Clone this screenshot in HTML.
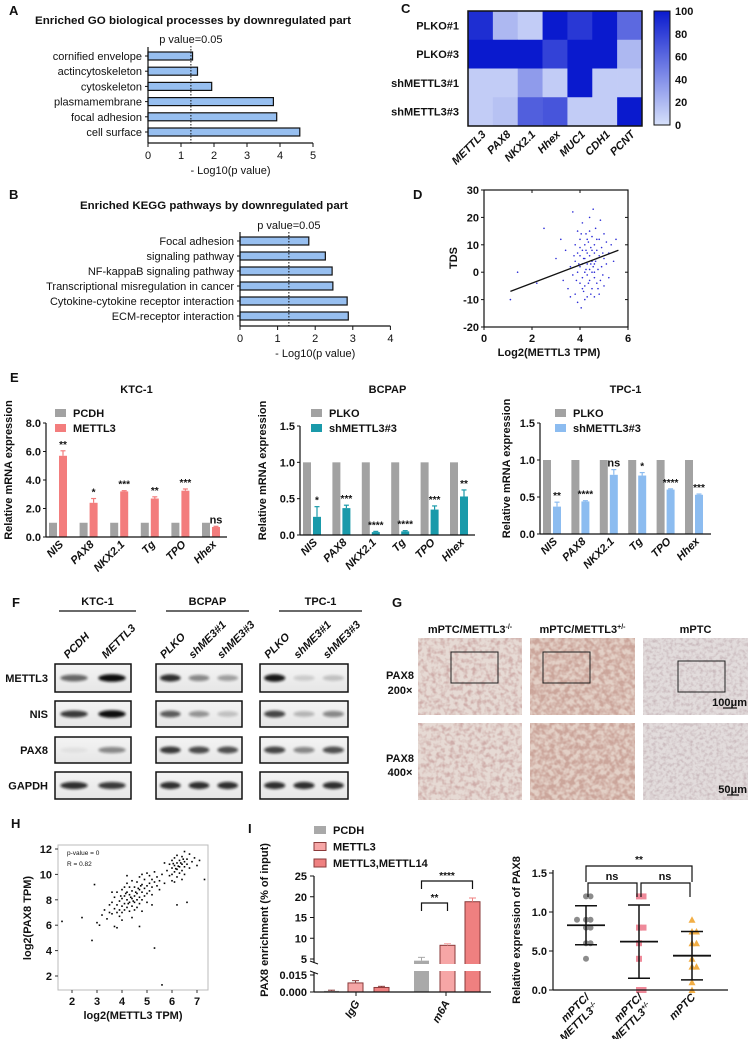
<!DOCTYPE html>
<html><head><meta charset="utf-8"><style>
html,body{margin:0;padding:0;background:#fff;}
svg{display:block;font-family:"Liberation Sans",Arial,sans-serif;}
text{fill:#111;}
</style></head><body>
<svg id="fig" width="753" height="1039" viewBox="0 0 753 1039" xmlns="http://www.w3.org/2000/svg">
<defs>
<filter id="blur" x="-50%" y="-100%" width="200%" height="300%"><feGaussianBlur stdDeviation="1.3"/></filter>
<linearGradient id="blotbg" x1="0" y1="0" x2="0" y2="1"><stop offset="0" stop-color="#f4f4f4"/><stop offset="1" stop-color="#e6e6e6"/></linearGradient>
<filter id="tex1" x="0" y="0" width="100%" height="100%"><feTurbulence type="fractalNoise" baseFrequency="0.22" numOctaves="2" seed="3"/><feColorMatrix type="matrix" values="0 0 0 0 0.62  0 0 0 0 0.42  0 0 0 0 0.40  2.6 0 0 0 -1.05"/></filter>
<filter id="tex2" x="0" y="0" width="100%" height="100%"><feTurbulence type="fractalNoise" baseFrequency="0.2" numOctaves="2" seed="7"/><feColorMatrix type="matrix" values="0 0 0 0 0.60  0 0 0 0 0.38  0 0 0 0 0.33  2.8 0 0 0 -0.9"/></filter>
<filter id="tex3" x="0" y="0" width="100%" height="100%"><feTurbulence type="fractalNoise" baseFrequency="0.3" numOctaves="2" seed="11"/><feColorMatrix type="matrix" values="0 0 0 0 0.58  0 0 0 0 0.48  0 0 0 0 0.50  2.2 0 0 0 -0.9"/></filter>
</defs>
</svg>
<script>
// ---------- DATA ----------
const goTerms=["cornified envelope","actincytoskeleton","cytoskeleton","plasmamembrane","focal adhesion","cell surface"];
const goVals=[1.35,1.5,1.93,3.8,3.9,4.6];
const goTicks=[0,1,2,3,4,5];
const keggTerms=["Focal adhesion","signaling pathway","NF-kappaB signaling pathway","Transcriptional misregulation in cancer","Cytokine-cytokine receptor interaction","ECM-receptor interaction"];
const keggVals=[1.83,2.27,2.45,2.47,2.85,2.88];
const keggTicks=[0,1,2,3,4];
const pCut=1.3;
const heatRows=["PLKO#1","PLKO#3","shMETTL3#1","shMETTL3#3"];
const heatCols=["METTL3","PAX8","NKX2.1","Hhex","MUC1","CDH1","PCNT"];
const heatVals=[[90,20,10,100,85,100,60],[100,100,100,80,100,100,20],[10,10,35,10,100,10,10],[10,15,65,70,10,10,100]];
const heatTicks=[0,20,40,60,80,100];
const tdsPts=[[1.1,-10],[1.4,0],[2.5,16],[2.2,-4],[3.0,5],[3.2,12],[3.3,-3],[3.4,8],[3.5,-6],[3.6,2],[3.7,22],[3.7,-1],[3.8,10],[3.8,-8],[3.8,4],[3.9,15],[3.9,0],[3.9,-11],[4.0,6],[4.0,-4],[4.0,12],[4.0,2],[4.05,-13],[4.1,18],[4.1,8],[4.1,-2],[4.1,3],[4.15,-7],[4.2,10],[4.2,5],[4.2,0],[4.2,-5],[4.25,14],[4.3,7],[4.3,-1],[4.3,-9],[4.3,3],[4.35,11],[4.4,20],[4.4,6],[4.4,1],[4.4,-3],[4.45,9],[4.5,-6],[4.5,4],[4.5,13],[4.5,0],[4.55,23],[4.6,7],[4.6,-2],[4.6,10],[4.6,3],[4.65,16],[4.7,5],[4.7,-4],[4.7,8],[4.75,1],[4.8,12],[4.8,-8],[4.8,6],[4.85,19],[4.9,2],[4.9,9],[4.95,-1],[5.0,14],[5.0,5],[5.0,-5],[5.1,11],[5.1,3],[5.2,7],[5.2,-2],[5.3,10],[5.4,4],[5.5,12],[3.6,-9],[3.9,7],[4.2,-10],[4.4,15],[4.6,-9],[4.0,9],[4.3,12],[4.5,8],[4.7,12],[4.1,-6],[3.95,3],[4.25,1],[4.55,2],[4.85,-3],[3.85,-3],[4.45,-8],[4.15,5],[4.35,-4],[4.65,4],[3.75,6],[4.05,14],[4.75,-6],[4.95,7],[4.25,8],[4.45,3],[4.6,0]];
const tdsFitX=[1.1,5.6];
const tdsFitY=[-7,8];
const dXTicks=[0,2,4,6];
const dYTicks=[-20,-10,0,10,20,30];
const eGenes=["NIS","PAX8","NKX2.1","Tg","TPO","Hhex"];
const ktcCtrl=[1,1,1,1,1,1];
const ktcVals=[5.7,2.4,3.2,2.7,3.25,0.7];
const ktcErr=[0.35,0.3,0.05,0.12,0.12,0.05];
const ktcStars=["**","*","***","**","***","ns"];
const ktcTicks=["0.0","2.0","4.0","6.0","8.0"];
const bcCtrl=[1,1,1,1,1,1];
const bcVals=[0.25,0.37,0.04,0.05,0.35,0.53];
const bcErr=[0.14,0.04,0.01,0.01,0.05,0.09];
const bcStars=["*","***","****","****","***","**"];
const tpCtrl=[1,1,1,1,1,1];
const tpVals=[0.37,0.44,0.8,0.79,0.6,0.53];
const tpErr=[0.06,0.01,0.07,0.04,0.01,0.01];
const tpStars=["**","****","ns","*","****","***"];
const smallTicks=["0.0","0.5","1.0","1.5"];
const blotRows=["METTL3","NIS","PAX8","GAPDH"];
const blotKTC=[[0.6,1.0],[0.8,1.0],[0.05,0.45],[0.85,0.8]];
const blotBC=[[0.85,0.45,0.35],[0.65,0.4,0.2],[0.8,0.72,0.7],[0.85,0.85,0.85]];
const blotTP=[[0.95,0.15,0.2],[0.75,0.25,0.45],[0.75,0.45,0.7],[0.85,0.85,0.85]];
const hPts=[[1.6,6.3],[2.4,6.6],[2.8,4.8],[2.9,9.2],[3.8,5.8],[3.7,5.9],[4.7,5.9],[5.3,4.2],[5.6,1.3],[6.2,7.6],[7.3,9.6],[6.6,7.8],[3.2,6.8],[3.3,7.2],[3.4,6.5],[3.5,7.6],[3.5,7.0],[3.6,6.9],[3.6,7.8],[3.7,7.3],[3.7,8.2],[3.8,7.0],[3.8,7.6],[3.8,8.6],[3.9,7.9],[3.9,7.2],[3.9,6.7],[4.0,8.1],[4.0,7.5],[4.0,8.8],[4.0,7.0],[4.1,8.3],[4.1,7.7],[4.1,9.0],[4.1,7.2],[4.2,8.0],[4.2,8.6],[4.2,7.4],[4.2,9.3],[4.3,7.8],[4.3,8.4],[4.3,7.1],[4.3,9.0],[4.4,8.1],[4.4,8.7],[4.4,7.5],[4.4,9.5],[4.5,8.3],[4.5,7.8],[4.5,9.0],[4.5,7.2],[4.6,8.5],[4.6,8.0],[4.6,9.4],[4.6,7.4],[4.7,8.8],[4.7,8.2],[4.7,9.8],[4.7,7.7],[4.8,8.6],[4.8,9.2],[4.8,8.0],[4.8,10.0],[4.9,8.9],[4.9,8.3],[4.9,9.6],[5.0,9.1],[5.0,8.5],[5.0,10.1],[5.0,7.8],[5.1,9.3],[5.1,8.7],[5.1,9.9],[5.2,9.0],[5.2,9.6],[5.2,8.4],[5.3,9.4],[5.3,10.2],[5.4,9.1],[5.4,9.8],[5.5,9.5],[5.5,8.8],[5.6,10.0],[5.7,9.3],[3.0,6.2],[3.1,6.0],[4.0,6.4],[4.4,6.6],[4.8,7.1],[5.2,7.6],[3.6,8.6],[4.2,9.9],[4.35,8.2],[4.55,8.6],[4.25,7.7],[4.65,8.9],[4.15,8.5],[4.45,7.9],[3.95,8.3],[4.75,9.1],[5.8,10.3],[5.9,10.8],[5.9,9.9],[6.0,10.5],[6.0,11.1],[6.0,10.0],[6.1,10.7],[6.1,10.2],[6.1,11.3],[6.2,10.4],[6.2,10.9],[6.2,11.5],[6.2,9.8],[6.3,10.6],[6.3,11.1],[6.3,10.1],[6.4,10.8],[6.4,10.3],[6.4,11.4],[6.5,10.6],[6.5,11.0],[6.5,10.0],[6.6,10.8],[6.6,11.2],[6.7,10.5],[6.7,11.6],[6.8,11.0],[6.9,11.3],[7.0,10.7],[7.1,11.1],[6.0,9.5],[6.4,9.6],[5.7,10.9],[6.5,11.8],[6.1,9.4],[6.25,10.65],[6.35,10.9],[6.15,10.45],[6.45,11.2],[6.05,10.85]];
const hXTicks=[2,3,4,5,6,7];
const hYTicks=[2,4,6,8,10,12];
const ripGroups=["IgG","m6A"];
const ripSeries=["PCDH","METTL3","METTL3,METTL14"];
const ripIgG=[0.001,0.008,0.004];
const ripIgGErr=[0.0006,0.002,0.001];
const ripM6A=[4.6,8.3,18.8];
const ripM6AErr=[0.8,0.4,0.9];
const ripUpperTicks=[5,10,15,20,25];
const ripLowerTicks=["0.000","0.015"];
const dotGroups=["mPTC/METTL3-/-","mPTC/METTL3+/-","mPTC"];
const dotG1=[1.2,1.2,0.9,0.9,0.9,0.8,0.8,0.6,0.6,0.4];
const dotG2=[1.2,1.2,0.8,0.8,0.6,0.4,0.0,0.0];
const dotG3=[0.9,0.75,0.75,0.6,0.6,0.4,0.3,0.3,0.1,0.0];
const dotMean=[0.83,0.62,0.44];
const dotSD=[0.25,0.47,0.31];
const dotTicks=["0.0","5.0","1.0","1.5"];

// ---------- HELPERS ----------
const NS='http://www.w3.org/2000/svg';
const svg=document.getElementById('fig');
function el(tag,attrs,parent){const e=document.createElementNS(NS,tag);for(const k in attrs)e.setAttribute(k,attrs[k]);(parent||svg).appendChild(e);return e;}
function tx(x,y,s,attrs,parent){const e=el('text',Object.assign({x:x,y:y},attrs||{}),parent);e.textContent=s;return e;}
function grp(parent){return el('g',{},parent);}
const B={'font-weight':'bold'};
function lab(x,y,s){const t=tx(x,y,s,{'font-size':13,'font-weight':'bold'});

}

// ---------- PANEL A / B ----------
function hbars(name,terms,vals,ticks,x0,unit,yc0,step,axisY,title,tx0,ty0,tw,pY){
 const g=grp();
 
 
 const sx=v=>x0+v*unit;
 const t=tx(tx0,ty0,title,{'font-size':11,'text-anchor':'middle',textLength:tw,lengthAdjust:'spacingAndGlyphs','font-weight':'bold'},g);
 
 
 terms.forEach((term,i)=>{
  const yc=yc0+i*step;
  const r=el('rect',{x:sx(0),y:yc-4,width:sx(vals[i])-sx(0),height:8,fill:'#97bff0',stroke:'#111','stroke-width':1.2},g);
  
  
  el('line',{x1:sx(0)-3,x2:sx(0),y1:yc,y2:yc,stroke:'#111'},g);
  tx(sx(0)-6,yc+4,term,{'font-size':11,'text-anchor':'end'},g);
 });
 el('line',{x1:sx(0),x2:sx(0),y1:yc0-9,y2:axisY,stroke:'#111','stroke-width':1.2},g);
 el('line',{x1:sx(0),x2:sx(ticks[ticks.length-1]),y1:axisY,y2:axisY,stroke:'#111','stroke-width':1.2},g);
 ticks.forEach(v=>{el('line',{x1:sx(v),x2:sx(v),y1:axisY,y2:axisY+4,stroke:'#111'},g);
  tx(sx(v),axisY+16,String(v),{'font-size':11,'text-anchor':'middle'},g);});
 const ax=tx((sx(0)+sx(ticks[ticks.length-1]))/2,axisY+31,'- Log10(p value)',{'font-size':11,'text-anchor':'middle'},g);
 
 
 el('line',{x1:sx(pCut),x2:sx(pCut),y1:pY+3,y2:axisY,stroke:'#111','stroke-dasharray':'1.5,1.5'},g);
 tx(sx(pCut),pY,'p value=0.05',{'font-size':11,'text-anchor':'middle'},g);
}
lab(9,15,'A');
hbars('go-bar-chart',goTerms,goVals,goTicks,148,33,56,15.2,143,'Enriched GO biological processes by downregulated part',193,24,316,43);
lab(9,199,'B');
hbars('kegg-bar-chart',keggTerms,keggVals,keggTicks,240,37.6,241,15,326,'Enriched KEGG pathways by downregulated part',214,209,268,229);

// ---------- PANEL C heatmap ----------
lab(401,13,'C');
(function(){
 const g=grp();
 
 
 const X0=468,Y0=11,W=174,H=115,cw=W/heatCols.length,rh=H/heatRows.length;
 const lo=[214,224,250],hi=[10,26,206];
 const col=v=>{const t=v/100;return 'rgb('+lo.map((c,i)=>Math.round(c+(hi[i]-c)*t)).join(',')+')';};
 heatRows.forEach((r,i)=>{
  heatCols.forEach((c,j)=>{
   const cell=el('rect',{x:X0+j*cw,y:Y0+i*rh,width:cw+0.3,height:rh+0.3,fill:col(heatVals[i][j])},g);
   
   
  });
  tx(X0-9,Y0+i*rh+rh/2+4,r,{'font-size':11,'text-anchor':'end','font-weight':'bold'},g);
 });
 el('rect',{x:X0,y:Y0,width:W,height:H,fill:'none',stroke:'#111','stroke-width':1.5},g);
 heatCols.forEach((c,j)=>{const cx=X0+j*cw+cw/2+6;
  tx(cx,Y0+H+9,c,{'font-size':11,'font-style':'italic','font-weight':'bold','text-anchor':'end',transform:'rotate(-45 '+cx+' '+(Y0+H+9)+')'},g);});
 const cb=grp(g);
 
 
 const gr=el('linearGradient',{id:'cbg',x1:0,y1:1,x2:0,y2:0},document.querySelector('defs'));
 el('stop',{offset:0,'stop-color':col(0)},gr);el('stop',{offset:1,'stop-color':col(100)},gr);
 const cy=v=>125-v/100*114;
 el('rect',{x:654,y:11,width:16,height:114,fill:'url(#cbg)',stroke:'#111','stroke-width':1},cb);
 heatTicks.forEach(v=>{tx(675,cy(v)+4,String(v),{'font-size':11,'font-weight':'bold'},cb);});
})();

// ---------- PANEL D scatter ----------
lab(413,199,'D');
(function(){
 const g=grp();
 
 
 const sx=v=>484+v*24, sy=v=>327-(v+20)*2.74;
 tdsPts.forEach(p=>{const c=el('circle',{cx:sx(p[0]),cy:sy(p[1]),r:0.8,fill:'#2b2bd6'},g);
  
  });
 const fl=el('line',{x1:sx(tdsFitX[0]),y1:sy(tdsFitY[0]),x2:sx(tdsFitX[1]),y2:sy(tdsFitY[1]),stroke:'#111','stroke-width':1.3},g);
 
 
 el('rect',{x:sx(0),y:sy(30),width:sx(6)-sx(0),height:sy(-20)-sy(30),fill:'none',stroke:'#111','stroke-width':1.2},g);
 dXTicks.forEach(v=>{el('line',{x1:sx(v),x2:sx(v),y1:sy(-20),y2:sy(-20)+3,stroke:'#111'},g);el('line',{x1:sx(v),x2:sx(v),y1:sy(30),y2:sy(30)+3,stroke:'#111'},g);
  tx(sx(v),sy(-20)+15,String(v),{'font-size':11,'text-anchor':'middle','font-weight':'bold'},g);});
 dYTicks.forEach(v=>{el('line',{x1:sx(0)-3,x2:sx(0),y1:sy(v),y2:sy(v),stroke:'#111'},g);el('line',{x1:sx(6)-3,x2:sx(6),y1:sy(v),y2:sy(v),stroke:'#111'},g);
  tx(sx(0)-5,sy(v)+4,String(v),{'font-size':11,'text-anchor':'end','font-weight':'bold'},g);});
 tx(549,356,'Log2(METTL3 TPM)',{'font-size':11,'text-anchor':'middle','font-weight':'bold'},g);
 tx(457,258,'TDS',{'font-size':11,'text-anchor':'middle','font-weight':'bold',transform:'rotate(-90 457 258)'},g);
})();

// ---------- PANEL E ----------
lab(10,382,'E');
function qbars(name,title,ctrl,vals,err,stars,ticks,tickMax,x0,x1,y0,y1,gx0,gstep,col,leg,ylx){
 const g=grp();
 
 
 const sy=v=>y0-(v/tickMax)*(y0-y1);
 tx((x0+x1)/2,393,title,{'font-size':11,'text-anchor':'middle','font-weight':'bold'},g);
 ctrl.forEach((c,i)=>{
  const cx=gx0+i*gstep;
  const r1=el('rect',{x:cx-9,y:sy(c),width:8,height:sy(0)-sy(c),fill:'#a2a2a2'},g);
  
  
  const r2=el('rect',{x:cx+1,y:sy(vals[i]),width:8,height:sy(0)-sy(vals[i]),fill:col},g);
  
  
  const et=sy(vals[i]+err[i]);
  el('line',{x1:cx+5,x2:cx+5,y1:et,y2:sy(vals[i]),stroke:col,'stroke-width':1.2},g);
  el('line',{x1:cx+2.5,x2:cx+7.5,y1:et,y2:et,stroke:col,'stroke-width':1.2},g);
  tx(cx+5,et-3,stars[i],{'font-size':stars[i]=='ns'?11:10,'text-anchor':'middle','font-weight':'bold'},g);
  const lx=cx+6,ly=y0+8;
  tx(lx,ly,eGenes[i],{'font-size':11,'font-style':'italic','font-weight':'bold','text-anchor':'end',transform:'rotate(-45 '+lx+' '+ly+')'},g);
 });
 el('line',{x1:x0,x2:x0,y1:y1,y2:y0,stroke:'#111','stroke-width':1.2},g);
 el('line',{x1:x0,x2:x1,y1:y0,y2:y0,stroke:'#111','stroke-width':1.2},g);
 ticks.forEach((t,i)=>{const v=i*tickMax/(ticks.length-1);el('line',{x1:x0-3,x2:x0,y1:sy(v),y2:sy(v),stroke:'#111'},g);
  tx(x0-5,sy(v)+4,t,{'font-size':11,'text-anchor':'end','font-weight':'bold'},g);});
 const ly=(y0+y1)/2-10;
 tx(ylx,ly,'Relative mRNA expression',{'font-size':11,'text-anchor':'middle','font-weight':'bold',transform:'rotate(-90 '+ylx+' '+ly+')'},g);
 el('rect',{x:leg[0],y:409,width:11,height:8,fill:'#a2a2a2'},g);
 tx(leg[0]+18,417,leg[1],{'font-size':11,'font-weight':'bold'},g);
 el('rect',{x:leg[0],y:424,width:11,height:8,fill:col},g);
 tx(leg[0]+18,432,leg[2],{'font-size':11,'font-weight':'bold'},g);
}
qbars('ktc1-qpcr-chart','KTC-1',ktcCtrl,ktcVals,ktcErr,ktcStars,ktcTicks,8,46,227,537,423,58,30.6,'#f37d7d',[55,'PCDH','METTL3'],12);
qbars('bcpap-qpcr-chart','BCPAP',bcCtrl,bcVals,bcErr,bcStars,smallTicks,1.5,300,475,535,426,312,29.4,'#1a9aaa',[311,'PLKO','shMETTL3#3'],266);
qbars('tpc1-qpcr-chart','TPC-1',tpCtrl,tpVals,tpErr,tpStars,smallTicks,1.5,540,711,534,423,552,28.4,'#8cbcf0',[555,'PLKO','shMETTL3#3'],510);

// ---------- PANEL F blots ----------
lab(12,607,'F');
(function(){
 const g=grp();
 
 
 const sets=[{n:'KTC-1',x0:55,x1:131,lanes:['PCDH','METTL3'],d:blotKTC,lx:[59,136]},
  {n:'BCPAP',x0:156,x1:242,lanes:['PLKO','shME3#1','shME3#3'],d:blotBC,lx:[166,249]},
  {n:'TPC-1',x0:260,x1:348,lanes:['PLKO','shME3#1','shME3#3'],d:blotTP,lx:[279,362]}];
 const rowsY=[[664,692],[701,727],[737,763],[772,799]];
 sets.forEach(s=>{
  tx((s.lx[0]+s.lx[1])/2,605,s.n,{'font-size':11,'text-anchor':'middle','font-weight':'bold'},g);
  el('line',{x1:s.lx[0],x2:s.lx[1],y1:611,y2:611,stroke:'#111','stroke-width':1.2},g);
  const n=s.lanes.length,lw=(s.x1-s.x0)/n;
  s.lanes.forEach((l,k)=>{const lx=s.x0+lw*k+lw/2-6,ly=659;
   tx(lx,ly,l,{'font-size':11,'font-style':'italic','font-weight':'bold',transform:'rotate(-45 '+lx+' '+ly+')'},g);});
  rowsY.forEach((ry,r)=>{
   const box=el('rect',{x:s.x0,y:ry[0],width:s.x1-s.x0,height:ry[1]-ry[0],fill:'url(#blotbg)',stroke:'#111','stroke-width':1.5},g);
   
   
   s.d[r].forEach((v,k)=>{const cx=s.x0+lw*k+lw/2;
    const band=el('ellipse',{cx:cx,cy:(ry[0]+ry[1])/2,rx:lw*0.36,ry:2.6+v*1.2,fill:'#111',opacity:v,filter:'url(#blur)'},g);
    
    });
  });
 });
 blotRows.forEach((r,i)=>tx(48,(rowsY[i][0]+rowsY[i][1])/2+4,r,{'font-size':11,'text-anchor':'end','font-weight':'bold'},g));
})();

// ---------- PANEL G IHC ----------
lab(392,607,'G');
(function(){
 const g=grp();
 
 
 const cols=[[418,522,'#e6dad4','tex1'],[530,635,'#e3d0c6','tex2'],[643,748,'#e2dcdc','tex3']];
 const rows=[[638,715],[723,800]];
 const heads=[['mPTC/METTL3','-/-'],['mPTC/METTL3','+/-'],['mPTC','']];
 cols.forEach((c,i)=>{
  const t=tx((c[0]+c[1])/2,633,heads[i][0],{'font-size':11,'text-anchor':'middle','font-weight':'bold'},g);
  if(heads[i][1]){const ts=el('tspan',{'font-size':7,dy:-4},t);ts.textContent=heads[i][1];}
  rows.forEach((r,j)=>{
   const im=el('rect',{x:c[0],y:r[0],width:c[1]-c[0],height:r[1]-r[0],fill:c[2]},g);
   
   
   el('rect',{x:c[0],y:r[0],width:c[1]-c[0],height:r[1]-r[0],fill:'#000',filter:'url(#'+c[3]+')'},g);
  });
 });
 el('rect',{x:451,y:652,width:47,height:31,fill:'none',stroke:'#222','stroke-width':1},g);
 el('rect',{x:543,y:652,width:47,height:31,fill:'none',stroke:'#222','stroke-width':1},g);
 el('rect',{x:678,y:661,width:47,height:31,fill:'none',stroke:'#222','stroke-width':1},g);
 tx(747,706,'100μm',{'font-size':11,'text-anchor':'end','font-weight':'bold'},g);
 el('line',{x1:723,x2:737,y1:708,y2:708,stroke:'#111','stroke-width':1.2},g);
 tx(747,793,'50μm',{'font-size':11,'text-anchor':'end','font-weight':'bold'},g);
 el('line',{x1:727,x2:739,y1:795,y2:795,stroke:'#111','stroke-width':1.2},g);
 tx(400,679,'PAX8',{'font-size':11,'text-anchor':'middle','font-weight':'bold'},g);
 tx(400,694,'200×',{'font-size':11,'text-anchor':'middle','font-weight':'bold'},g);
 tx(400,762,'PAX8',{'font-size':11,'text-anchor':'middle','font-weight':'bold'},g);
 tx(400,776,'400×',{'font-size':11,'text-anchor':'middle','font-weight':'bold'},g);
})();

// ---------- PANEL H ----------
lab(11,828,'H');
(function(){
 const g=grp();
 
 
 const sx=v=>72+(v-2)*25, sy=v=>849+(12-v)*12.7;
 el('rect',{x:58,y:845,width:150,height:145,fill:'none',stroke:'#bbb','stroke-width':1},g);
 hPts.forEach(p=>{const c=el('rect',{x:sx(p[0])-0.8,y:sy(p[1])-0.8,width:1.6,height:1.6,fill:'#000'},g);
  
  });
 hXTicks.forEach(v=>{el('line',{x1:sx(v),x2:sx(v),y1:990,y2:993,stroke:'#333'},g);tx(sx(v),1005,String(v),{'font-size':11,'text-anchor':'middle','font-weight':'bold'},g);});
 hYTicks.forEach(v=>{el('line',{x1:55,x2:58,y1:sy(v),y2:sy(v),stroke:'#333'},g);tx(52,sy(v)+4,String(v),{'font-size':11,'text-anchor':'end','font-weight':'bold'},g);});
 tx(67,855,'p-value = 0',{'font-size':6.5,fill:'#333'},g);
 tx(67,866,'R = 0.82',{'font-size':6.5,fill:'#333'},g);
 tx(133,1019,'log2(METTL3 TPM)',{'font-size':11,'text-anchor':'middle','font-weight':'bold'},g);
 tx(31,918,'log2(PAX8 TPM)',{'font-size':11,'text-anchor':'middle','font-weight':'bold',transform:'rotate(-90 31 918)'},g);
})();

// ---------- PANEL I left ----------
tx(248,833,'I',{'font-size':13,'font-weight':'bold'});
(function(){
 const g=grp();
 
 
 const cols=['#a9a9a9','#f6a6a6','#ef8080'];
 const strokes=['none','#8a3a3a','#8a3a3a'];
 const yU=v=>959-(v-5)*4.15, yL=v=>992-v/0.015*17;
 ripSeries.forEach((s,i)=>{el('rect',{x:314,y:826+i*16.5,width:12,height:8,fill:cols[i],stroke:strokes[i]},g);
  tx(333,834+i*16.5,s,{'font-size':11,'font-weight':'bold'},g);});
 const gx=[[324,348,374],[414,440,465]];
 ripIgG.forEach((v,i)=>{const r=el('rect',{x:gx[0][i],y:yL(v),width:15,height:992-yL(v),fill:cols[i],stroke:strokes[i]},g);
  
  
  const e=yL(v+ripIgGErr[i]);el('line',{x1:gx[0][i]+7.5,x2:gx[0][i]+7.5,y1:e,y2:yL(v),stroke:'#8a3a3a'},g);el('line',{x1:gx[0][i]+4,x2:gx[0][i]+11,y1:e,y2:e,stroke:'#8a3a3a'},g);});
 ripM6A.forEach((v,i)=>{const r=el('rect',{x:gx[1][i],y:yU(v),width:15,height:992-yU(v),fill:cols[i],stroke:strokes[i]},g);
  
  
  const e=yU(v+ripM6AErr[i]);el('line',{x1:gx[1][i]+7.5,x2:gx[1][i]+7.5,y1:e,y2:yU(v),stroke:cols[i]},g);el('line',{x1:gx[1][i]+4,x2:gx[1][i]+11,y1:e,y2:e,stroke:cols[i]},g);});
 el('rect',{x:405,y:964,width:85,height:7,fill:'#fff'},g);
 el('line',{x1:314,x2:314,y1:876,y2:963,stroke:'#111','stroke-width':1.2},g);
 el('line',{x1:314,x2:314,y1:972,y2:992,stroke:'#111','stroke-width':1.2},g);
 el('line',{x1:310,x2:318,y1:961,y2:964,stroke:'#111'},g);el('line',{x1:310,x2:318,y1:971,y2:974,stroke:'#111'},g);
 el('line',{x1:314,x2:491,y1:992,y2:992,stroke:'#111','stroke-width':1.2},g);
 ripUpperTicks.forEach(v=>{el('line',{x1:310,x2:314,y1:yU(v),y2:yU(v),stroke:'#111'},g);tx(307,yU(v)+4,String(v),{'font-size':11,'text-anchor':'end','font-weight':'bold'},g);});
 ripLowerTicks.forEach(t=>{const y=yL(parseFloat(t));el('line',{x1:310,x2:314,y1:y,y2:y,stroke:'#111'},g);tx(307,y+4,t,{'font-size':11,'text-anchor':'end','font-weight':'bold'},g);});
 const bx=[gx[1][0]+7.5,gx[1][1]+7.5,gx[1][2]+7.5];
 el('polyline',{points:bx[0]+',911 '+bx[0]+',903 '+bx[1]+',903 '+bx[1]+',911',fill:'none',stroke:'#111','stroke-width':1.2},g);
 tx((bx[0]+bx[1])/2,901,'**',{'font-size':10,'text-anchor':'middle','font-weight':'bold'},g);
 el('polyline',{points:bx[0]+',889 '+bx[0]+',881 '+bx[2]+',881 '+bx[2]+',889',fill:'none',stroke:'#111','stroke-width':1.2},g);
 tx((bx[0]+bx[2])/2,879,'****',{'font-size':10,'text-anchor':'middle','font-weight':'bold'},g);
 [[356,'IgG'],[446,'m6A']].forEach(a=>{el('line',{x1:a[0],x2:a[0],y1:992,y2:996,stroke:'#111'},g);tx(a[0]+4,1003,a[1],{'font-size':11,'font-style':'italic','font-weight':'bold','text-anchor':'end',transform:'rotate(-60 '+(a[0]+4)+' 1003)'},g);});
 tx(268,920,'PAX8 enrichment (% of input)',{'font-size':11,'text-anchor':'middle','font-weight':'bold',transform:'rotate(-90 268 920)'},g);
})();

// ---------- PANEL I right ----------
(function(){
 const g=grp();
 
 
 const sy=v=>990-v*78;
 const gxs=[586,639,692];
 const cs=['#8c8c8c','#ef8a9a','#f2ae45'];
 [dotG1,dotG2,dotG3].forEach((arr,gi)=>{
  const seen={};
  arr.forEach((v,k)=>{const key=v;seen[key]=(seen[key]||0)+1;const n=seen[key];const off=(n%2?-1:1)*Math.ceil((n)/2)*4.5-(n%2?0:0);
   const x=gxs[gi]+(n==1?0:off),y=sy(v);let m;
   if(gi==0)m=el('circle',{cx:x,cy:y,r:3,fill:cs[0]},g);
   else if(gi==1)m=el('rect',{x:x-3,y:y-3,width:6,height:6,fill:cs[1]},g);
   else m=el('polygon',{points:(x)+','+(y-3.5)+' '+(x-3.5)+','+(y+3)+' '+(x+3.5)+','+(y+3),fill:cs[2]},g);
   
   });
  const mn=dotMean[gi],sd=dotSD[gi];
  el('line',{x1:gxs[gi]-19,x2:gxs[gi]+19,y1:sy(mn),y2:sy(mn),stroke:'#111','stroke-width':1.8},g);
  el('line',{x1:gxs[gi],x2:gxs[gi],y1:sy(mn+sd),y2:sy(mn-sd),stroke:'#111','stroke-width':1.5},g);
  el('line',{x1:gxs[gi]-11,x2:gxs[gi]+11,y1:sy(mn+sd),y2:sy(mn+sd),stroke:'#111','stroke-width':1.5},g);
  el('line',{x1:gxs[gi]-11,x2:gxs[gi]+11,y1:sy(mn-sd),y2:sy(mn-sd),stroke:'#111','stroke-width':1.5},g);
 });
 el('line',{x1:553,x2:553,y1:870,y2:990,stroke:'#111','stroke-width':1.2},g);
 el('line',{x1:553,x2:728,y1:990,y2:990,stroke:'#111','stroke-width':1.2},g);
 const tv=[0,0.5,1.0,1.5];
 dotTicks.forEach((t,i)=>{el('line',{x1:549,x2:553,y1:sy(tv[i]),y2:sy(tv[i]),stroke:'#111'},g);tx(547,sy(tv[i])+4,t,{'font-size':11,'text-anchor':'end','font-weight':'bold'},g);});
 el('polyline',{points:'586,882 586,866 692,866 692,882',fill:'none',stroke:'#111','stroke-width':1.2},g);
 tx(639,863,'**',{'font-size':10,'text-anchor':'middle','font-weight':'bold'},g);
 el('polyline',{points:'588,897 588,883 637,883 637,897',fill:'none',stroke:'#111','stroke-width':1.2},g);
 el('polyline',{points:'641,897 641,883 690,883 690,897',fill:'none',stroke:'#111','stroke-width':1.2},g);
 tx(612,880,'ns',{'font-size':11,'text-anchor':'middle','font-weight':'bold'},g);
 tx(665,880,'ns',{'font-size':11,'text-anchor':'middle','font-weight':'bold'},g);
 const lbl=[['mPTC/','METTL3','-/-'],['mPTC/','METTL3','+/-'],['mPTC','','']];
 lbl.forEach((l,i)=>{const x=gxs[i]+4,y=998;
  const t=tx(x,y,l[0],{'font-size':11,'font-style':'italic','font-weight':'bold','text-anchor':'end',transform:'rotate(-45 '+x+' '+y+')'},g);
  if(l[1]){const t2=tx(x+9,y+9,l[1],{'font-size':11,'font-style':'italic','font-weight':'bold','text-anchor':'end',transform:'rotate(-45 '+(x+9)+' '+(y+9)+')'},g);
   const ts=el('tspan',{'font-size':7,dy:-4},t2);ts.textContent=l[2];}});
 tx(520,930,'Relative expression of PAX8',{'font-size':11,'text-anchor':'middle','font-weight':'bold',transform:'rotate(-90 520 930)'},g);
})();
</script>
</body></html>
